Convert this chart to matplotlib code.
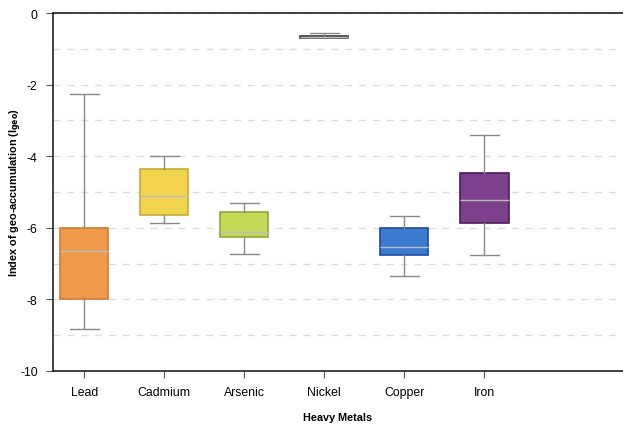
import matplotlib.pyplot as plt
import numpy as np

plt.rcParams['font.family'] = ['Liberation Sans', 'DejaVu Sans']
plt.rcParams['axes.unicode_minus'] = False

metals = ['Lead', 'Cadmium', 'Arsenic', 'Nickel', 'Copper', 'Iron']
whislo = [-8.83, -5.87, -6.73, -0.68, -7.35, -6.76]
q1 = [-8.0, -5.64, -6.26, -0.69, -6.76, -5.87]
med = [-6.65, -5.10, -6.12, -0.67, -6.54, -5.22]
q3 = [-6.0, -4.36, -5.56, -0.65, -6.0, -4.47]
whishi = [-2.26, -4.0, -5.31, -0.57, -5.67, -3.41]

face = ['#EE9A4A', '#F2D44F', '#C3DA57', '#555555', '#3A7BD0', '#7E3F8D']
edge = ['#D27A32', '#C8AA3C', '#8FA93B', '#3A3A3A', '#1E4C9C', '#4A1D5A']

stats = []
for i, m in enumerate(metals):
    stats.append(dict(label=m, whislo=whislo[i], q1=q1[i], med=med[i],
                      q3=q3[i], whishi=whishi[i], fliers=[]))

fig = plt.figure(figsize=(6.23, 4.27), dpi=100)
ax = fig.add_axes([0.085, 0.129, 0.915, 0.838])

pos = np.arange(len(metals))
bp = ax.bxp(stats, positions=pos, widths=0.6, patch_artist=True,
            showfliers=False, capwidths=0.36,
            whiskerprops=dict(color='#8a8a8a', lw=1),
            capprops=dict(color='#8a8a8a', lw=1),
            medianprops=dict(color='#bdbdbd', lw=1))
for b, fc, ec in zip(bp['boxes'], face, edge):
    b.set_facecolor(fc)
    b.set_edgecolor(ec)
    b.set_linewidth(1.2)

ax.set_ylim(-10, 0)
ax.set_yticks(np.arange(-10, 1, 2))
ax.set_yticks(np.arange(-10, 1, 1), minor=True)
ax.set_xlim(-0.39, 6.73)
ax.grid(axis='y', which='both', ls=(0, (5, 5)), color='#dddddd', lw=1)
ax.set_axisbelow(True)

ax.spines['right'].set_visible(False)
for s in ['left', 'bottom', 'top']:
    ax.spines[s].set_color('#222222')
    ax.spines[s].set_linewidth(1.2)
ax.tick_params(axis='y', which='minor', length=0)
ax.tick_params(axis='both', which='major', length=5, labelsize=8.8,
               color='#555555', pad=6)
ax.set_xticks(pos)
ax.set_xticklabels(metals)

ax.set_xlabel('Heavy Metals', fontsize=7.8, fontweight='bold')
ax.set_ylabel('Index of geo-accumulation (I$_{\\mathbf{geo}}$)', fontsize=7.8,
              fontweight='bold')
ax.xaxis.set_label_coords(0.5, -0.115)
ax.yaxis.set_label_coords(-0.05, 0.5)

fig.savefig('out.png', dpi=100)
